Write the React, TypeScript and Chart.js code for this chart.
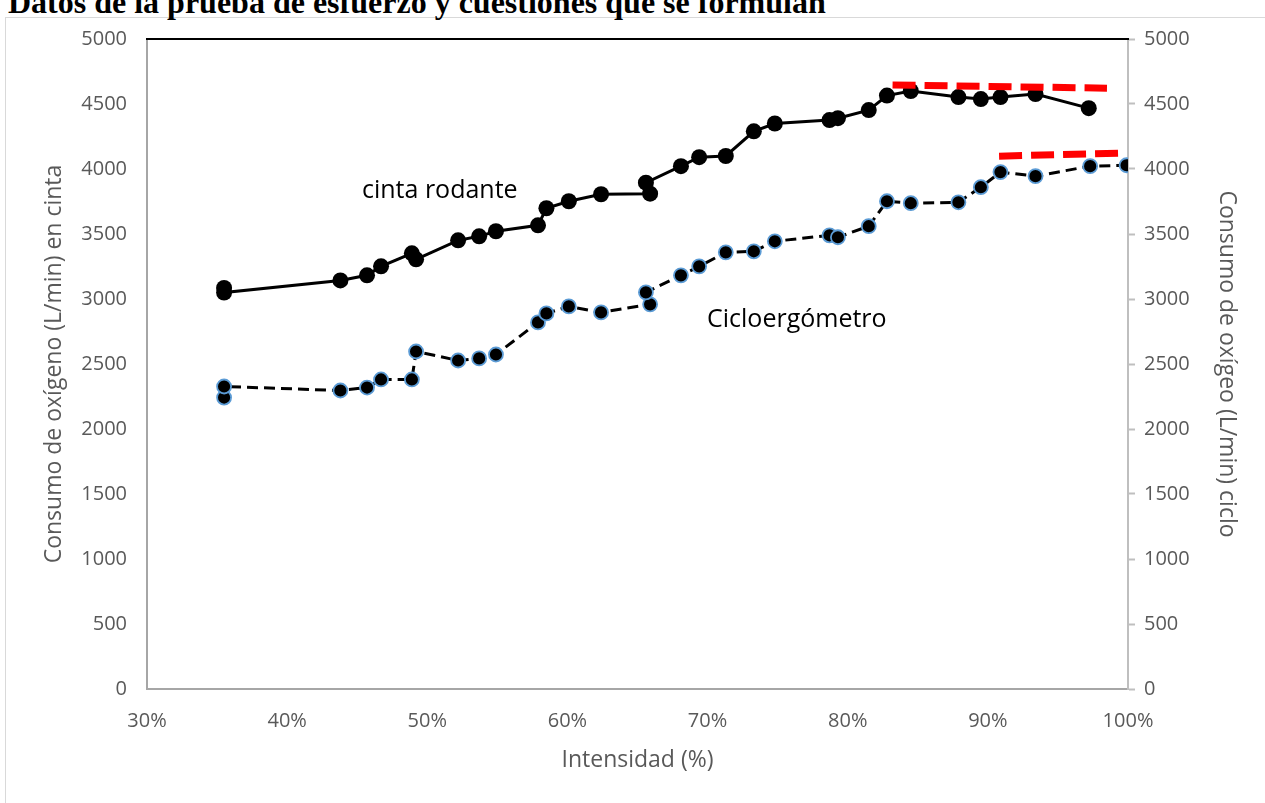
import React, { useEffect, useRef } from 'react';
import { Chart, registerables } from 'chart.js';

Chart.register(...registerables);

// Intensidad (%) and VO2 (mL/min) — cinta rodante (treadmill)
const intensidadCinta = [35.5, 35.5, 43.8, 45.7, 46.7, 48.9, 49.2, 52.2, 53.7, 54.9, 57.9, 58.5, 60.1, 62.4, 65.9, 65.6, 68.1, 69.4, 71.3, 73.3, 74.8, 78.7, 79.3, 81.5, 82.8, 84.5, 87.9, 89.5, 90.9, 93.4, 97.2];
const vo2Cinta = [3085, 3050, 3143, 3182, 3251, 3351, 3305, 3451, 3482, 3521, 3567, 3698, 3752, 3806, 3810, 3895, 4022, 4091, 4100, 4290, 4350, 4376, 4391, 4453, 4565, 4600, 4553, 4538, 4553, 4576, 4468];

// Cicloergómetro
const intensidadCiclo = [35.5, 35.5, 43.8, 45.7, 46.7, 48.9, 49.2, 52.2, 53.7, 54.9, 57.9, 58.5, 60.1, 62.4, 65.9, 65.6, 68.1, 69.4, 71.3, 73.3, 74.8, 78.7, 79.3, 81.5, 82.8, 84.5, 87.9, 89.5, 90.9, 93.4, 97.3, 99.9];
const vo2Ciclo = [2242, 2327, 2296, 2319, 2381, 2381, 2596, 2527, 2543, 2573, 2820, 2889, 2943, 2897, 2959, 3051, 3182, 3251, 3359, 3367, 3444, 3490, 3475, 3560, 3752, 3737, 3744, 3860, 3976, 3945, 4022, 4029];

// Red dashed plateau markers
const plateauCintaX = [83.2, 98.5];
const plateauCintaY = [4646, 4622];
const plateauCicloX = [90.8, 99.3];
const plateauCicloY = [4099, 4122];

// Axis ticks
const xMin = 30;
const xMax = 100;
const xStep = 10;
const yMin = 0;
const yMax = 5000;
const yStep = 500;

// Text annotations
const labelTexts = ['cinta rodante', 'Cicloergómetro'];
const labelX = [45.34, 69.96];
const labelY = [3829, 2843];

const toPts = (xs: number[], ys: number[]) => xs.map((x, i) => ({ x, y: ys[i] }));

const GRAY = '#595959';
const FONT = 'Open Sans';

const topLinePlugin = {
  id: 'topLine',
  afterDraw(chart: any) {
    const { ctx, chartArea } = chart;
    ctx.save();
    ctx.strokeStyle = '#000000';
    ctx.lineWidth = 2;
    ctx.beginPath();
    ctx.moveTo(chartArea.left - 1, chartArea.top);
    ctx.lineTo(chartArea.right + 1, chartArea.top);
    ctx.stroke();
    ctx.restore();
  },
};

const annotationPlugin = {
  id: 'annotations',
  afterDatasetsDraw(chart: any) {
    const { ctx } = chart;
    const xs = chart.scales.x;
    const ys = chart.scales.y;
    ctx.save();
    ctx.fillStyle = '#000000';
    ctx.font = `25px "${FONT}"`;
    ctx.textAlign = 'left';
    ctx.textBaseline = 'middle';
    labelTexts.forEach((t, i) => {
      ctx.fillText(t, xs.getPixelForValue(labelX[i]), ys.getPixelForValue(labelY[i]));
    });
    ctx.restore();
  },
};

export default function App() {
  const ref = useRef<HTMLCanvasElement>(null);

  useEffect(() => {
    if (!ref.current) return;
    const tickFont = { family: FONT, size: 20 };
    const titleFont = { family: FONT, size: 23 };
    const chart = new Chart(ref.current, {
      type: 'line',
      data: {
        datasets: [
          {
            label: 'plateau cinta',
            data: toPts(plateauCintaX, plateauCintaY),
            borderColor: '#FF0000',
            borderWidth: 7,
            borderDash: [23, 9],
            pointRadius: 0,
            fill: false,
            yAxisID: 'y',
            order: 0,
          },
          {
            label: 'plateau ciclo',
            data: toPts(plateauCicloX, plateauCicloY),
            borderColor: '#FF0000',
            borderWidth: 7,
            borderDash: [23, 9],
            pointRadius: 0,
            fill: false,
            yAxisID: 'y',
            order: 0,
          },
          {
            label: 'cinta rodante',
            data: toPts(intensidadCinta, vo2Cinta),
            borderColor: '#000000',
            borderWidth: 3,
            pointRadius: 8,
            pointBackgroundColor: '#000000',
            pointBorderColor: '#000000',
            pointBorderWidth: 0,
            fill: false,
            tension: 0,
            yAxisID: 'y',
            order: 1,
          },
          {
            label: 'Cicloergómetro',
            data: toPts(intensidadCiclo, vo2Ciclo),
            borderColor: '#000000',
            borderWidth: 3,
            borderDash: [11, 6],
            pointRadius: 7,
            pointBackgroundColor: '#000000',
            pointBorderColor: '#5B9BD5',
            pointBorderWidth: 1.8,
            fill: false,
            tension: 0,
            yAxisID: 'y2',
            order: 1,
          },
        ],
      },
      options: {
        animation: false,
        responsive: false,
        layout: { padding: { left: 0, right: 0, top: 39, bottom: 0 } },
        plugins: { legend: { display: false }, tooltip: { enabled: false } },
        scales: {
          x: {
            type: 'linear',
            min: xMin,
            max: xMax,
            ticks: {
              stepSize: xStep,
              callback: (v: any) => `${v}%`,
              color: GRAY,
              font: tickFont,
              padding: 20,
              maxRotation: 0,
            },
            grid: { drawOnChartArea: false, drawTicks: false },
            border: { color: '#a6a6a6', width: 2 },
            title: { display: true, text: 'Intensidad (%)', color: GRAY, font: titleFont, padding: { top: 0, bottom: 29 } },
            afterFit: (s: any) => { s.height = 114; },
          },
          y: {
            position: 'left',
            min: yMin,
            max: yMax,
            ticks: { stepSize: yStep, color: GRAY, font: tickFont, padding: 20, callback: (v: any) => String(v) },
            grid: { drawOnChartArea: false, drawTicks: false },
            border: { color: '#a6a6a6', width: 2 },
            title: { display: true, text: 'Consumo de oxígeno (L/min) en cinta', color: GRAY, font: titleFont, padding: { top: 41, bottom: 0 } },
            afterFit: (s: any) => { s.width = 147; },
          },
          y2: {
            position: 'right',
            min: yMin,
            max: yMax,
            ticks: { stepSize: yStep, color: GRAY, font: tickFont, padding: 9, callback: (v: any) => String(v) },
            grid: { drawOnChartArea: false, drawTicks: true, tickLength: 7, color: '#bfbfbf', tickWidth: 2 },
            border: { color: '#bfbfbf', width: 2 },
            title: { display: true, text: 'Consumo de oxígeo (L/min) ciclo', color: GRAY, font: titleFont, padding: { top: 25, bottom: 0 } },
            afterFit: (s: any) => { s.width = 137; },
          },
        },
      },
      plugins: [topLinePlugin, annotationPlugin],
    } as any);
    return () => chart.destroy();
  }, []);

  return (
    <div style={{ position: 'fixed', left: 0, top: 0, width: 1265, height: 803, overflow: 'hidden', background: '#ffffff' }}>
      <div
        style={{
          position: 'absolute',
          left: 5,
          top: 17,
          width: 1400,
          height: 900,
          border: '1px solid #d9d9d9',
          boxSizing: 'border-box',
        }}
      />
      <div
        style={{
          position: 'absolute',
          left: 8,
          top: -14,
          fontFamily: '"Liberation Serif", serif',
          fontWeight: 'bold',
          fontSize: 32,
          lineHeight: '32px',
          whiteSpace: 'nowrap',
          color: '#000000',
        }}
      >
        Datos de la prueba de esfuerzo y cuestiones que se formulan
      </div>
      <canvas ref={ref} width={1265} height={803} style={{ position: 'absolute', left: 0, top: 0 }} />
    </div>
  );
}
